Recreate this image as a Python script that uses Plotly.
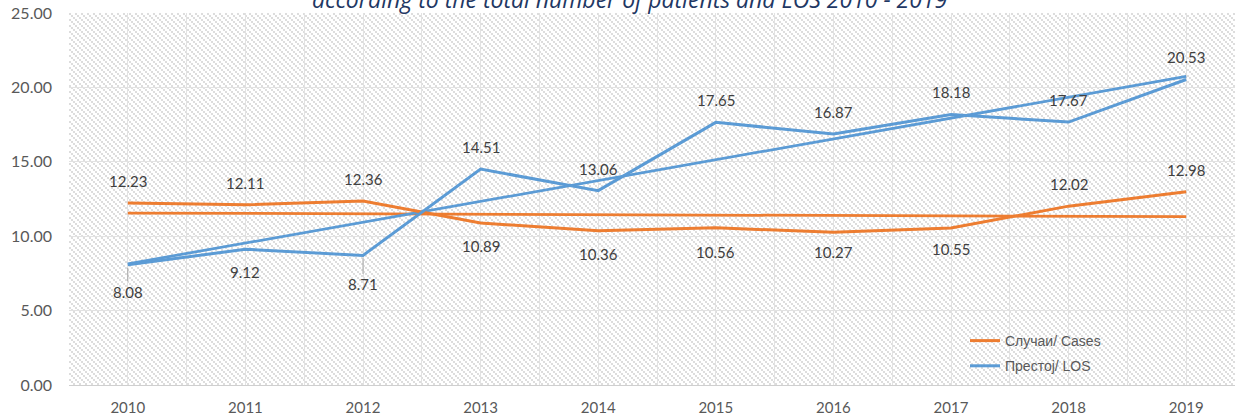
import base64
import numpy as np
import plotly.graph_objects as go

# ---- data -------------------------------------------------------------
years = ["2010", "2011", "2012", "2013", "2014", "2015", "2016", "2017", "2018", "2019"]
cases = [12.23, 12.11, 12.36, 10.89, 10.36, 10.56, 10.27, 10.55, 12.02, 12.98]
los = [8.08, 9.12, 8.71, 14.51, 13.06, 17.65, 16.87, 18.18, 17.67, 20.53]
y_ticks = [0, 5, 10, 15, 20, 25]

# label placement (pixels below(+)/above(-) the point)
cases_label_dy = [-22, -22, -22, 23, 23, 24, 20, 21, -22, -22]
los_label_dy = [27, 23, 29, -22, -22, -22, -22, -22, -22, -23]
los_leader = [True, False, True, False, False, False, False, False, False, False]

ORANGE = "#ED7D31"
BLUE = "#5B9BD5"
TEXT = "#404040"
AXIS_TEXT = "#595959"
FONT = "Lato, 'Open Sans', 'DejaVu Sans', sans-serif"

W, H = 1235, 419
M_L, M_R, M_T, M_B = 69, 0, 13, 34
PW, PH = W - M_L - M_R, H - M_T - M_B

x = list(range(len(years)))
x_range = [-0.5, -0.5 + PW / 117.6]

# linear trend lines (least squares, as a spreadsheet trendline)
cases_fit = np.polyfit(x, cases, 1)
los_fit = np.polyfit(x, los, 1)
trend_x = [x[0], x[-1]]
cases_trend = [float(np.polyval(cases_fit, v)) for v in trend_x]
los_trend = [float(np.polyval(los_fit, v)) for v in trend_x]

# hatched plot-area background
svg = (
    f'<svg xmlns="http://www.w3.org/2000/svg" width="{PW}" height="{PH}" shape-rendering="crispEdges">'
    '<defs><pattern id="h" width="6" height="6" patternUnits="userSpaceOnUse">'
    '<rect width="6" height="6" fill="#ffffff"/>'
    '<rect x="0" y="0" width="2" height="2" fill="#dddddd"/>'
    '<rect x="2" y="2" width="2" height="2" fill="#dddddd"/>'
    '<rect x="4" y="4" width="2" height="2" fill="#dddddd"/>'
    '</pattern></defs>'
    f'<rect width="{PW}" height="{PH}" fill="url(#h)"/></svg>'
)
bg_src = "data:image/svg+xml;base64," + base64.b64encode(svg.encode()).decode()

fig = go.Figure()

fig.add_trace(go.Scatter(
    x=trend_x, y=cases_trend, mode="lines",
    line=dict(color=ORANGE, width=2.75), showlegend=False, hoverinfo="skip"))
fig.add_trace(go.Scatter(
    x=trend_x, y=los_trend, mode="lines",
    line=dict(color=BLUE, width=2.75), showlegend=False, hoverinfo="skip"))

fig.add_trace(go.Scatter(
    x=x, y=cases, mode="lines", name="Случаи/ Cases",
    line=dict(color=ORANGE, width=3), legendgroup="a"))
fig.add_trace(go.Scatter(
    x=x, y=los, mode="lines", name="Престој/ LOS",
    line=dict(color=BLUE, width=3), legendgroup="b"))

# data labels
for series, dys, leaders in ((cases, cases_label_dy, [False] * len(cases)),
                             (los, los_label_dy, los_leader)):
    for xi, v, dy, lead in zip(x, series, dys, leaders):
        if lead:
            fig.add_annotation(
                x=xi, y=v, text=f"{v:.2f}", showarrow=True, ax=0, ay=dy,
                arrowhead=0, arrowwidth=1, arrowcolor="#a6a6a6", standoff=3,
                font=dict(family=FONT, size=15, color=TEXT))
        else:
            fig.add_annotation(
                x=xi, y=v, text=f"{v:.2f}", showarrow=False, yshift=-dy,
                font=dict(family=FONT, size=15, color=TEXT))

# title (partly above the visible area)
fig.add_annotation(
    xref="paper", yref="paper", x=(629 - M_L) / PW, y=(385 - 17) / PH,
    xanchor="center", yanchor="bottom", showarrow=False,
    text="<i>according to the total number of patients and LOS 2010 - 2019</i>",
    font=dict(family="'Open Sans', sans-serif", size=23, color="#1F3864"))

fig.add_layout_image(dict(
    source=bg_src, xref="paper", yref="paper", x=0, y=1, sizex=1, sizey=1,
    xanchor="left", yanchor="top", sizing="stretch", layer="below"))

fig.update_layout(
    width=W, height=H,
    margin=dict(l=M_L, r=M_R, t=M_T, b=M_B),
    paper_bgcolor="white", plot_bgcolor="white",
    font=dict(family=FONT, color=AXIS_TEXT),
    legend=dict(
        x=(965 - M_L) / PW, y=(385 - 325) / PH, xanchor="left", yanchor="top",
        bgcolor="rgba(0,0,0,0)", tracegroupgap=4,
        font=dict(family="'Liberation Sans', Arial, sans-serif", size=14, color=AXIS_TEXT)),
    xaxis=dict(
        range=x_range, tickvals=x, ticktext=years, showgrid=True,
        gridcolor="#e2e2e2", gridwidth=1, zeroline=False,
        showline=True, linecolor="#cfcfcf", linewidth=1,
        ticks="", ticklabelstandoff=9,
        tickfont=dict(family=FONT, size=15, color=AXIS_TEXT),
        minor=dict(tickvals=[v - 0.5 for v in x] + [x[-1] + 0.5],
                   showgrid=True, gridcolor="#e2e2e2", gridwidth=1),
    ),
    yaxis=dict(
        range=[0, 25], tickvals=y_ticks, tickformat=".2f", showgrid=True,
        gridcolor="#e2e2e2", gridwidth=1, zeroline=False, showline=False,
        ticks="", ticklabelstandoff=16,
        tickfont=dict(family=FONT, size=16, color=AXIS_TEXT),
    ),
)

fig.write_html("out.html")
